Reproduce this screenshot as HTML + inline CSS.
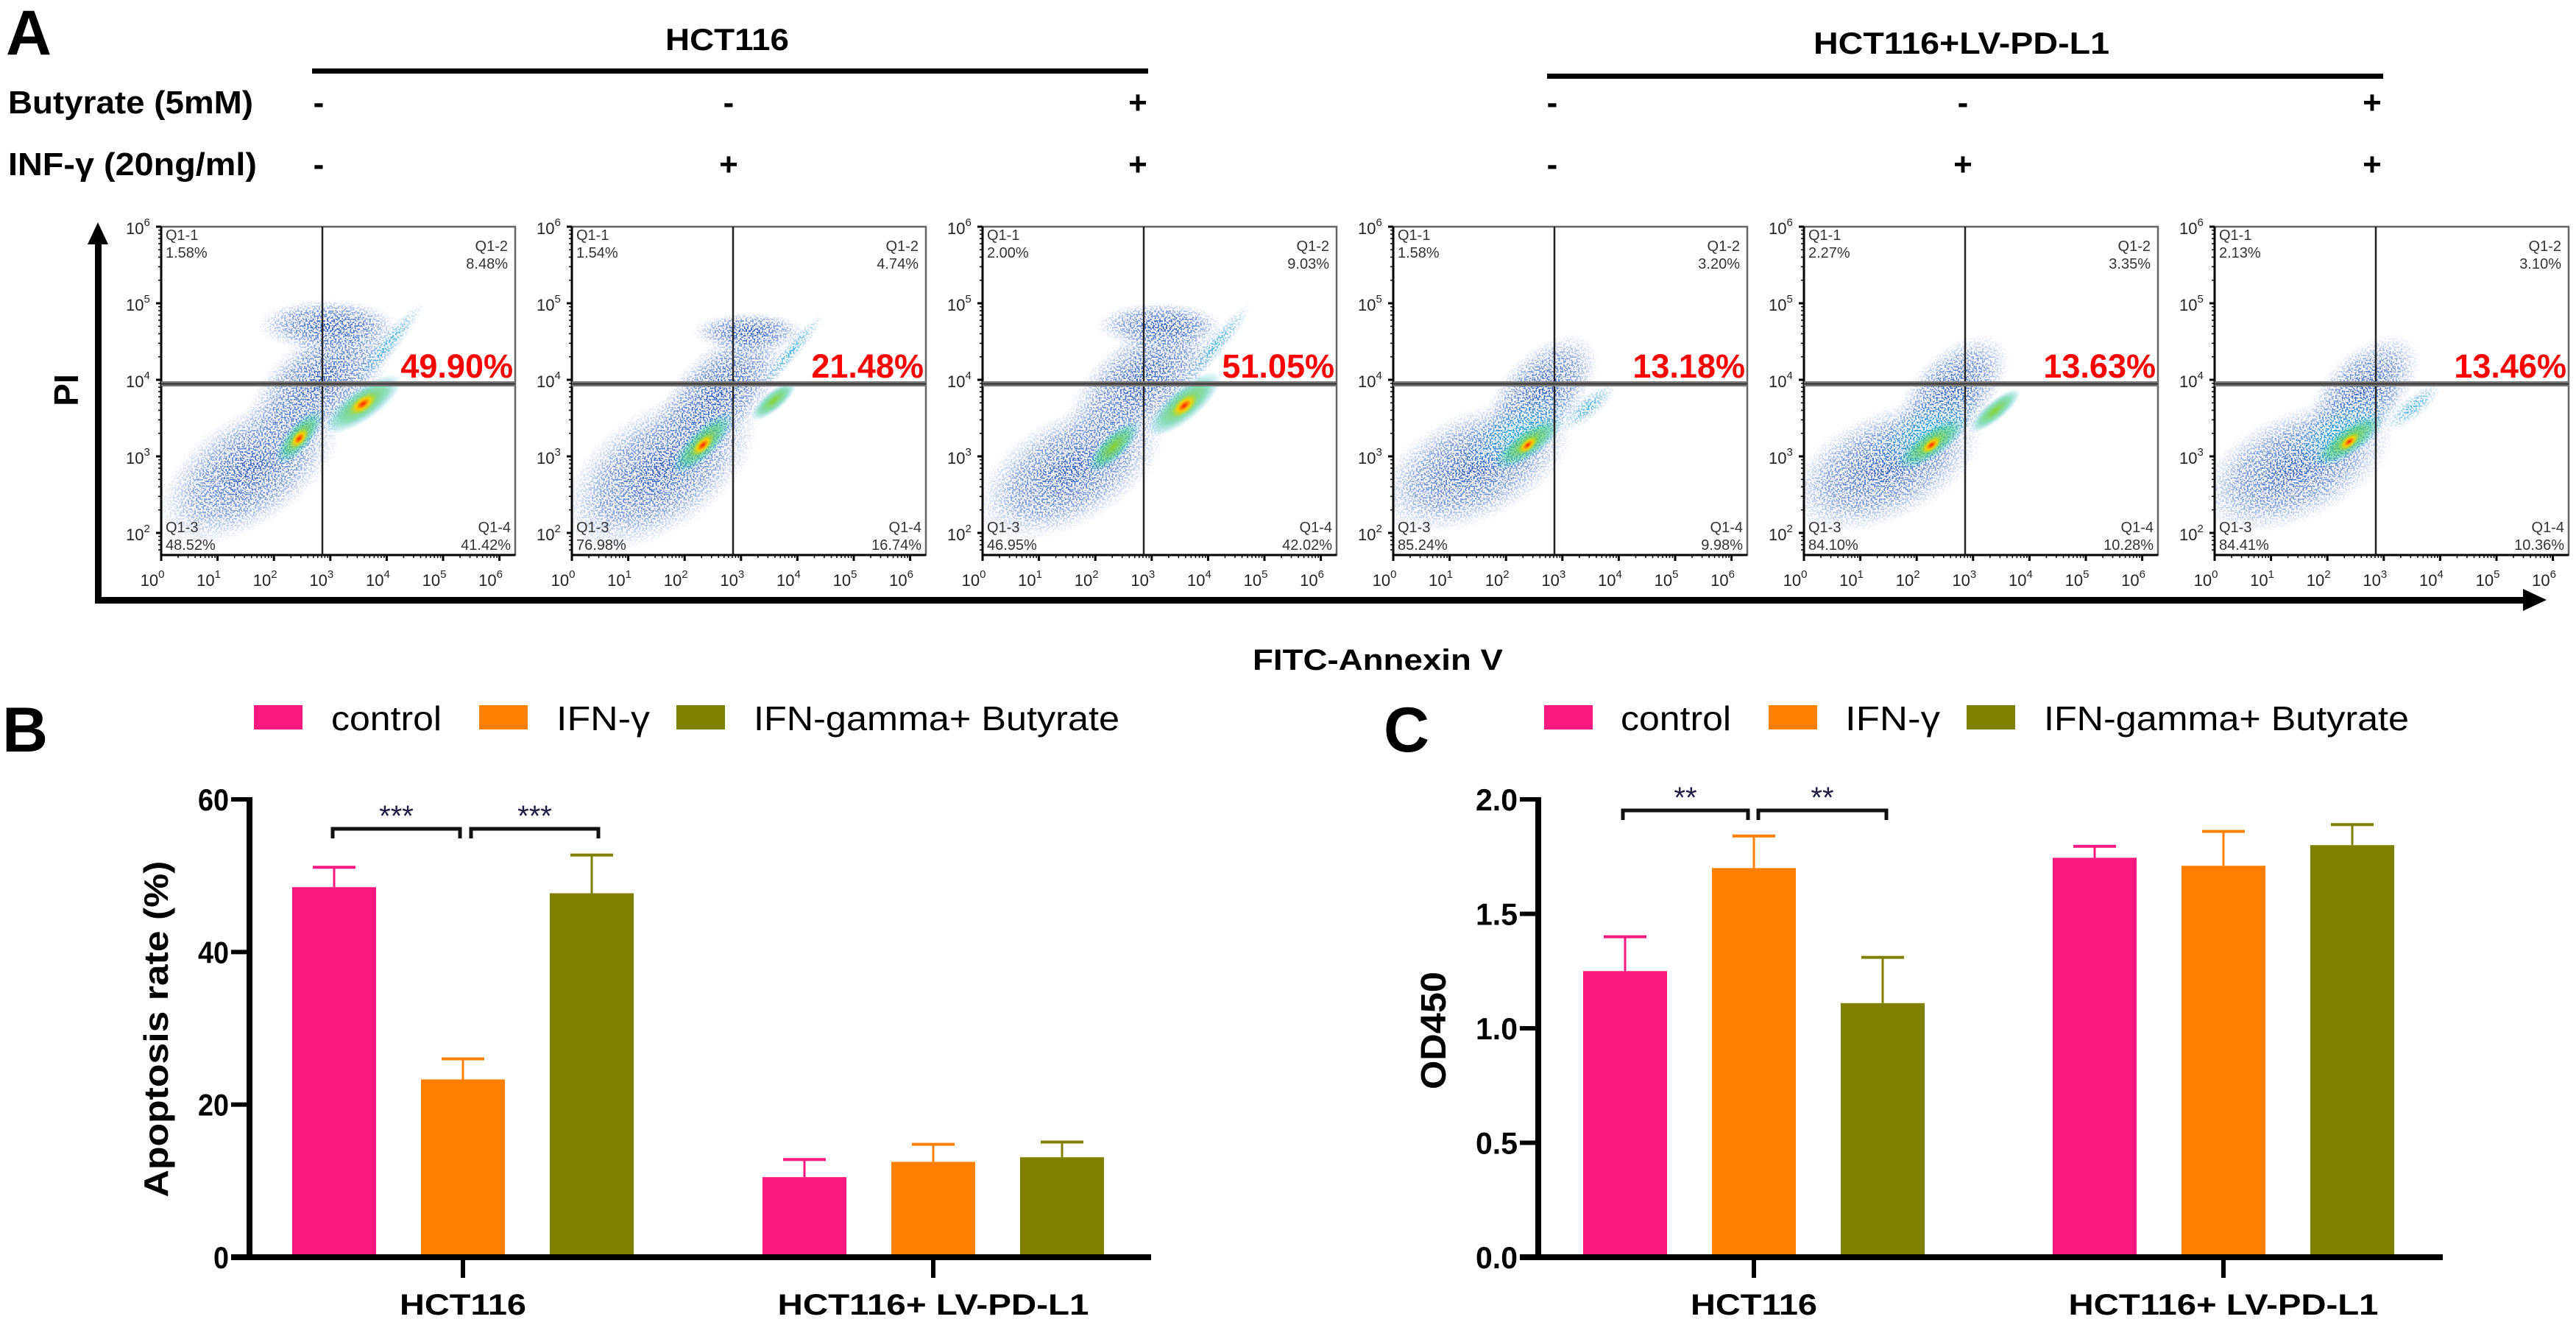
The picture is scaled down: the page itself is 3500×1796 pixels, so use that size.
<!DOCTYPE html>
<html><head><meta charset="utf-8"><title>Flow cytometry and bar charts</title>
<style>
html,body{margin:0;padding:0;background:#fff;}
svg{display:block;font-family:"Liberation Sans",Arial,sans-serif;}
</style></head>
<body>
<svg id="fig" xmlns="http://www.w3.org/2000/svg" width="3500" height="1796" viewBox="0 0 3500 1796">
<defs>
<radialGradient id="g0"><stop offset="0" stop-color="#1f4fb8" stop-opacity="0.95"/><stop offset="0.6" stop-color="#3364c8" stop-opacity="0.6"/><stop offset="1" stop-color="#5a84dc" stop-opacity="0"/></radialGradient>
<radialGradient id="g1"><stop offset="0" stop-color="#20a8e0" stop-opacity="0.95"/><stop offset="1" stop-color="#3a8ad8" stop-opacity="0"/></radialGradient>
<radialGradient id="g2"><stop offset="0" stop-color="#8ad42c" stop-opacity="1"/><stop offset="0.6" stop-color="#40c890" stop-opacity="0.6"/><stop offset="1" stop-color="#30b0d0" stop-opacity="0"/></radialGradient>
<radialGradient id="g3"><stop offset="0" stop-color="#ff1a00" stop-opacity="1"/><stop offset="0.5" stop-color="#ffd000" stop-opacity="0.9"/><stop offset="1" stop-color="#c0e020" stop-opacity="0"/></radialGradient>
<filter id="speckle" x="0" y="0" width="100%" height="100%">
  <feTurbulence type="fractalNoise" baseFrequency="0.45" numOctaves="1" seed="3" result="noise"/>
  <feColorMatrix in="noise" type="matrix" values="0 0 0 0 0  0 0 0 0 0  0 0 0 0 0  0 0 0 9 -4.2" result="mask"/>
  <feComposite in="SourceGraphic" in2="mask" operator="in"/>
</filter>
</defs>
<rect x="0" y="0" width="3500" height="1796" fill="#fff"/>
<text x="8" y="74" font-size="86" font-weight="bold">A</text>
<text x="988" y="68" font-size="42" font-weight="bold" text-anchor="middle" textLength="168" lengthAdjust="spacingAndGlyphs">HCT116</text>
<rect x="424" y="93" width="1136" height="7" fill="#000"/>
<text x="2665" y="73" font-size="42" font-weight="bold" text-anchor="middle" textLength="402" lengthAdjust="spacingAndGlyphs">HCT116+LV-PD-L1</text>
<rect x="2102" y="100" width="1136" height="7" fill="#000"/>
<text x="11" y="154" font-size="44" font-weight="bold" textLength="333" lengthAdjust="spacingAndGlyphs">Butyrate (5mM)</text>
<text x="11" y="238" font-size="44" font-weight="bold" textLength="338" lengthAdjust="spacingAndGlyphs">INF-γ (20ng/ml)</text>
<g id="signs"></g>
<rect x="129" y="325" width="9" height="494" fill="#000"/>
<polygon points="133,302 119,332 147,332" fill="#000"/>
<rect x="129" y="811" width="3305" height="9" fill="#000"/>
<polygon points="3460,815 3428,800 3428,830" fill="#000"/>
<text x="0" y="0" font-size="46" font-weight="bold" text-anchor="middle" transform="translate(106,530) rotate(-90)">PI</text>
<text x="1872" y="910" font-size="40" font-weight="bold" text-anchor="middle" textLength="340" lengthAdjust="spacingAndGlyphs">FITC-Annexin V</text>
<g id="flow"></g>
<text x="3" y="1021" font-size="86" font-weight="bold">B</text>
<text x="1880" y="1021" font-size="86" font-weight="bold">C</text>
<text x="0" y="0" font-size="46" font-weight="bold" text-anchor="middle" textLength="457" lengthAdjust="spacingAndGlyphs" transform="translate(228,1398) rotate(-90)">Apoptosis rate (%)</text>
<text x="0" y="0" font-size="48" font-weight="bold" text-anchor="middle" textLength="160" lengthAdjust="spacingAndGlyphs" transform="translate(1964,1400) rotate(-90)">OD450</text>
<g id="chartB"></g>
<g id="chartC"></g>
</svg>
<script>
// ---------- Flow cytometry data ----------
const q1Values = [1.58, 1.54, 2.00, 1.58, 2.27, 2.13];
const q2Values = [8.48, 4.74, 9.03, 3.20, 3.35, 3.10];
const q3Values = [48.52, 76.98, 46.95, 85.24, 84.10, 84.41];
const q4Values = [41.42, 16.74, 42.02, 9.98, 10.28, 10.36];
const apoptosisLabels = ["49.90%", "21.48%", "51.05%", "13.18%", "13.63%", "13.46%"];
const butyrateSigns = ["-", "-", "+", "-", "-", "+"];
const ifnSigns = ["-", "+", "+", "-", "+", "+"];
const decadeLabels = ["0", "1", "2", "3", "4", "5", "6"];
// ---------- Bar chart data ----------
const groupNames = ["HCT116", "HCT116+ LV-PD-L1"];
const seriesNames = ["control", "IFN-γ", "IFN-gamma+ Butyrate"];
const apoControl = [48.5, 10.5];
const apoIfn = [23.3, 12.5];
const apoBut = [47.7, 13.1];
const apoControlErr = [51.1, 12.8];
const apoIfnErr = [26.0, 14.8];
const apoButErr = [52.7, 15.1];
const apoTicks = ["0", "20", "40", "60"];
const odControl = [1.25, 1.745];
const odIfn = [1.70, 1.71];
const odBut = [1.11, 1.80];
const odControlErr = [1.40, 1.795];
const odIfnErr = [1.84, 1.86];
const odButErr = [1.31, 1.89];
const odTicks = ["0.0", "0.5", "1.0", "1.5", "2.0"];

const NS = "http://www.w3.org/2000/svg";
function mk(tag, attrs, parent) {
  const e = document.createElementNS(NS, tag);
  for (const k in attrs) e.setAttribute(k, attrs[k]);
  parent.appendChild(e);
  return e;
}
const COLORS = ["#fa1a7f", "#ff8000", "#808000"];

const signsG = document.getElementById("signs");
const signX = [433, 990, 1546, 2109, 2667, 3223];
for (let i = 0; i < 6; i++) {
  let s = mk("text", {x: signX[i], y: 154, "font-size": 44, "font-weight": "bold", "text-anchor": "middle"}, signsG);
  
  
  s.textContent = butyrateSigns[i];
  let s2 = mk("text", {x: signX[i], y: 238, "font-size": 44, "font-weight": "bold", "text-anchor": "middle"}, signsG);
  
  
  s2.textContent = ifnSigns[i];
}

const flowG = document.getElementById("flow");
const blobSets = [
  [[0.25,0.74,0.3,0.17,-35,0],[0.45,0.47,0.26,0.14,-40,0],[0.47,0.3,0.2,0.08,0,0],[0.64,0.36,0.16,0.03,-50,1],[0.39,0.64,0.1,0.04,-50,2],[0.57,0.54,0.13,0.05,-35,2],[0.39,0.645,0.035,0.02,-50,3],[0.57,0.54,0.045,0.024,-35,3]],
  [[0.25,0.74,0.32,0.19,-35,0],[0.42,0.5,0.24,0.13,-45,0],[0.5,0.32,0.16,0.06,0,0],[0.62,0.38,0.14,0.025,-50,1],[0.37,0.66,0.12,0.045,-45,2],[0.57,0.53,0.08,0.03,-40,2],[0.37,0.665,0.04,0.02,-45,3]],
  [[0.25,0.74,0.3,0.17,-30,0],[0.45,0.47,0.26,0.14,-40,0],[0.5,0.3,0.18,0.07,0,0],[0.66,0.36,0.15,0.03,-50,1],[0.37,0.67,0.1,0.04,-45,2],[0.57,0.54,0.13,0.05,-40,2],[0.57,0.545,0.045,0.024,-40,3]],
  [[0.23,0.73,0.3,0.17,-25,0],[0.42,0.5,0.2,0.12,-45,0],[0.35,0.62,0.2,0.08,-30,1],[0.38,0.66,0.12,0.045,-35,2],[0.55,0.55,0.1,0.035,-40,1],[0.38,0.665,0.035,0.018,-40,3]],
  [[0.23,0.73,0.3,0.17,-25,0],[0.42,0.5,0.2,0.12,-45,0],[0.34,0.62,0.2,0.08,-30,1],[0.36,0.66,0.12,0.045,-35,2],[0.54,0.56,0.09,0.03,-40,2],[0.36,0.665,0.035,0.018,-40,3]],
  [[0.23,0.73,0.3,0.17,-25,0],[0.42,0.5,0.2,0.12,-45,0],[0.35,0.62,0.2,0.08,-30,1],[0.38,0.65,0.12,0.045,-35,2],[0.56,0.55,0.1,0.035,-40,1],[0.38,0.655,0.035,0.018,-40,3]]
];
const TOP = 308, BOT = 754, W = 481, H = BOT - TOP;
for (let k = 0; k < 6; k++) {
  const L = 219 + k * 558;
  const g = mk("g", {}, flowG);
  
  
  const cp = mk("clipPath", {id: "cp" + k}, g);
  mk("rect", {x: L, y: TOP, width: W, height: H}, cp);
  const clip = mk("g", {"clip-path": "url(#cp" + k + ")"}, g);
  const diffuse = mk("g", {filter: "url(#speckle)"}, clip);
  
  
  const core = mk("g", {}, clip);
  
  
  for (const b of blobSets[k]) {
    const cx = L + b[0] * W, cy = TOP + b[1] * H;
    const parent = b[5] <= 1 ? diffuse : core;
    const e = mk("ellipse", {cx: cx, cy: cy, rx: b[2] * W, ry: b[3] * H, fill: "url(#g" + b[5] + ")", transform: "rotate(" + b[4] + " " + cx + " " + cy + ")"}, parent);
    
    
  }
  const fr = mk("rect", {x: L, y: TOP, width: W, height: H, fill: "none", stroke: "#666", "stroke-width": 2.5}, g);
  
  
  mk("line", {x1: L, y1: TOP, x2: L, y2: BOT, stroke: "#000", "stroke-width": 3}, g);
  mk("line", {x1: L, y1: BOT, x2: L + W, y2: BOT, stroke: "#000", "stroke-width": 3}, g);
  const gv = mk("line", {x1: L + 219, y1: TOP, x2: L + 219, y2: BOT, stroke: "#222", "stroke-width": 2.5}, g);
  
  
  const gh = mk("rect", {x: L, y: 518, width: W, height: 7, fill: "#777"}, g);
  
  
  mk("line", {x1: L, y1: 521.5, x2: L + W, y2: 521.5, stroke: "#333", "stroke-width": 2}, g);
  for (let d = 0; d <= 6; d++) {
    const tx = L + d * 76.6;
    mk("line", {x1: tx, y1: BOT, x2: tx, y2: BOT + 8, stroke: "#000", "stroke-width": 3}, g);
    if (d < 6) for (let m = 2; m <= 9; m++) {
      const mx = tx + Math.log10(m) * 76.6;
      mk("line", {x1: mx, y1: BOT, x2: mx, y2: BOT + 4, stroke: "#000", "stroke-width": 1.5}, g);
    }
    const xl = mk("text", {x: tx - 12, y: 796, "font-size": 22, "text-anchor": "middle", fill: "#222"}, g);
    
    
    xl.innerHTML = '10<tspan font-size="15" dy="-11">' + decadeLabels[d] + '</tspan>';
  }
  for (let d = 2; d <= 6; d++) {
    const ty = TOP + (6 - d) * 104;
    mk("line", {x1: L - 7, y1: ty, x2: L, y2: ty, stroke: "#000", "stroke-width": 3}, g);
    for (let m = 2; m <= 9; m++) {
      const my = ty + 104 - Math.log10(m) * 104;
      if (my < BOT) mk("line", {x1: L - 4, y1: my, x2: L, y2: my, stroke: "#000", "stroke-width": 1.5}, g);
    }
    const yl = mk("text", {x: L - 48, y: ty + 10, "font-size": 22, fill: "#222"}, g);
    
    
    yl.innerHTML = '10<tspan font-size="15" dy="-11">' + decadeLabels[d] + '</tspan>';
  }
  const qa = [
    [L + 6, 326, "start", "Q1-1", q1Values[k]],
    [L + W - 10, 341, "end", "Q1-2", q2Values[k]],
    [L + 6, 723, "start", "Q1-3", q3Values[k]],
    [L + W - 6, 723, "end", "Q1-4", q4Values[k]]
  ];
  for (const q of qa) {
    const t1 = mk("text", {x: q[0], y: q[1], "font-size": 20, "text-anchor": q[2], fill: "#333"}, g);
    
    
    t1.textContent = q[3];
    const t2 = mk("text", {x: q[0], y: q[1] + 24, "font-size": 20, "text-anchor": q[2], fill: "#333"}, g);
    
    
    t2.textContent = q[4].toFixed(2) + "%";
  }
  const red = mk("text", {x: L + W - 3, y: 513, "font-size": 45, "font-weight": "bold", "text-anchor": "end", fill: "#ff0000"}, g);
  
  
  red.textContent = apoptosisLabels[k];
}

function barChart(gid, cfg) {
  const G = document.getElementById(gid);
  const y = v => cfg.y0 - v / cfg.max * (cfg.y0 - cfg.yTop);
  for (let s = 0; s < 3; s++) {
    const sw = mk("rect", {x: cfg.legSw[s], y: 958, width: 66, height: 33, fill: COLORS[s]}, G);
    
    
    const lt = mk("text", {x: cfg.legTx[s], y: 992, "font-size": 46, textLength: cfg.legLen[s], lengthAdjust: "spacingAndGlyphs"}, G);
    
    
    lt.textContent = seriesNames[s];
  }
  for (let gi = 0; gi < 2; gi++) {
    for (let s = 0; s < 3; s++) {
      const cx = cfg.groupX[gi] + (s - 1) * 175;
      const v = cfg.vals[s][gi], e = cfg.errs[s][gi];
      const b = mk("rect", {x: cx - 57, y: y(v), width: 114, height: cfg.y0 - y(v), fill: COLORS[s]}, G);
      
      
      const el = mk("line", {x1: cx, y1: y(v), x2: cx, y2: y(e), stroke: COLORS[s], "stroke-width": 3}, G);
      
      
      const ec = mk("line", {x1: cx - 29, y1: y(e), x2: cx + 29, y2: y(e), stroke: COLORS[s], "stroke-width": 4}, G);
      
      
    }
    const ct = mk("line", {x1: cfg.groupX[gi], y1: cfg.y0, x2: cfg.groupX[gi], y2: cfg.y0 + 28, stroke: "#000", "stroke-width": 6}, G);
    
    
    const cl = mk("text", {x: cfg.groupX[gi], y: 1786, "font-size": 40, "font-weight": "bold", "text-anchor": "middle", textLength: cfg.catLen[gi], lengthAdjust: "spacingAndGlyphs"}, G);
    
    
    cl.textContent = groupNames[gi];
  }
  const ya = mk("line", {x1: cfg.axisX, y1: cfg.yTop - 3, x2: cfg.axisX, y2: cfg.y0, stroke: "#000", "stroke-width": 8}, G);
  
  
  const xa = mk("line", {x1: cfg.axisX - 25, y1: cfg.y0, x2: cfg.xEnd, y2: cfg.y0, stroke: "#000", "stroke-width": 8}, G);
  
  
  cfg.ticks.forEach((t, i) => {
    const v = parseFloat(t);
    const tk = mk("line", {x1: cfg.axisX - 25, y1: y(v), x2: cfg.axisX, y2: y(v), stroke: "#000", "stroke-width": 6}, G);
    
    
    const tl = mk("text", {x: cfg.axisX - 28, y: y(v) + 15, "font-size": 42, "font-weight": "bold", "text-anchor": "end", textLength: t.length * 21 + (t.indexOf('.') >= 0 ? -6 : 0), lengthAdjust: "spacingAndGlyphs"}, G);
    
    
    tl.textContent = t;
  });
  for (const br of cfg.brackets) {
    const p = mk("path", {d: "M" + br[0] + " " + (br[2] + 13) + "V" + br[2] + "H" + br[1] + "V" + (br[2] + 13), fill: "none", stroke: "#111", "stroke-width": 5}, G);
    
    
    const st = mk("text", {x: (br[0] + br[1]) / 2, y: br[2] - 4, "font-size": 40, "text-anchor": "middle", fill: "#1c1c44"}, G);
    
    
    st.textContent = cfg.stars;
  }
}
barChart("chartB", {
  axisX: 339, y0: 1708, yTop: 1086, max: 60, xEnd: 1564,
  groupX: [629, 1268],
  vals: [apoControl, apoIfn, apoBut], errs: [apoControlErr, apoIfnErr, apoButErr],
  ticks: apoTicks, catLen: [172, 423],
  legSw: [345, 651, 919], legTx: [450, 756, 1024], legLen: [150, 127, 497],
  brackets: [[452, 625, 1126], [640, 813, 1126]], stars: "***"
});
barChart("chartC", {
  axisX: 2090, y0: 1708, yTop: 1086, max: 2, xEnd: 3319,
  groupX: [2383, 3021],
  vals: [odControl, odIfn, odBut], errs: [odControlErr, odIfnErr, odButErr],
  ticks: odTicks, catLen: [172, 421],
  legSw: [2098, 2403, 2672], legTx: [2202, 2507, 2777], legLen: [150, 129, 496],
  brackets: [[2205, 2375, 1101], [2389, 2563, 1101]], stars: "**"
});
</script>
</body></html>
